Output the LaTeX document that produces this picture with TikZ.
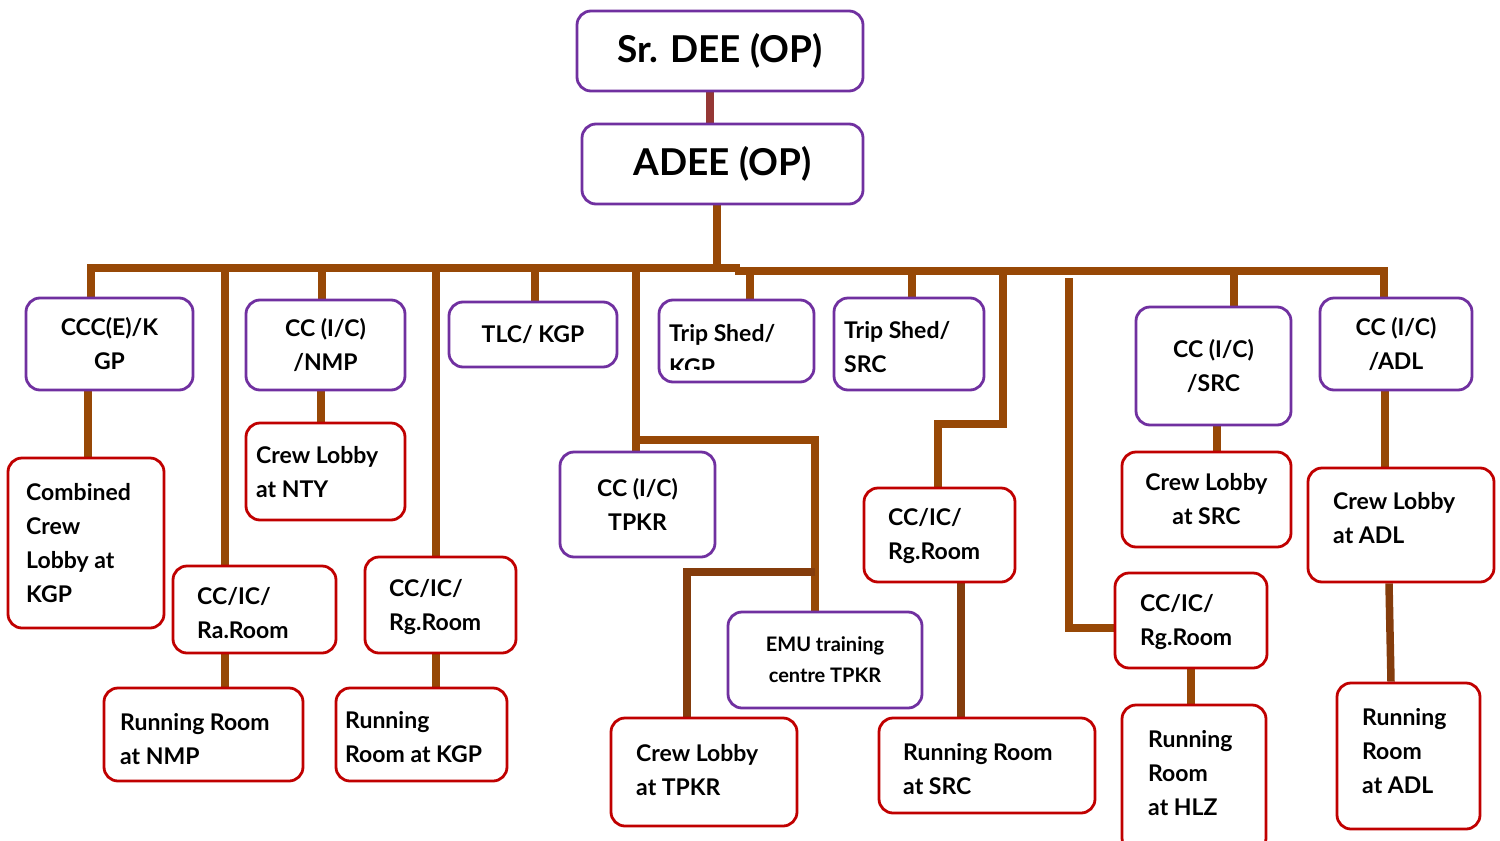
\documentclass[tikz,border=0pt]{standalone}
\usepackage{fontspec}
\setmainfont{Lato}
\usetikzlibrary{backgrounds}
\definecolor{pur}{RGB}{112,48,160}
\definecolor{redb}{RGB}{192,0,0}
\definecolor{brn}{RGB}{151,72,6}
\definecolor{brnd}{RGB}{132,60,12}
\definecolor{tcn}{RGB}{149,55,53}
\newcommand\txtfont{\fontsize{23}{34}\selectfont\bfseries}
\newcommand\bigfont{\fontsize{37}{42}\selectfont\bfseries}
\newcommand\emufont{\fontsize{20}{31}\selectfont\bfseries}
\tikzset{
  pbox/.style={draw=pur, line width=2.8pt, rounded corners=14pt, fill=white,
    align=center, font=\txtfont, inner sep=0pt},
  rbox/.style={pbox, draw=redb},
  txt/.style={anchor=west, align=left, font=\txtfont, inner sep=0pt},
  conn/.style={draw=brn, line width=7.5pt},
  connd/.style={draw=brnd, line width=7.5pt},
  topconn/.style={draw=tcn, line width=7.5pt}
}
% name, x1, y1, x2, y2, style, text
\newcommand\bx[7]{\node[#6, minimum width={(#4)-(#2)}, minimum height={(#5)-(#3)}] (#1) at ({((#2)+(#4))/2},{((#3)+(#5))/2}) {#7};}
\newcommand\tx[4]{\node[txt] (#1) at (#2,#3) {#4};}
\begin{document}
\begin{tikzpicture}[x=1pt,y=-1pt]
\useasboundingbox (0,0) rectangle (1500,841);
% top
\bx{sr}{577}{11}{863}{91}{pbox, font=\bigfont}{Sr. DEE (OP)}
\bx{adee}{582}{124}{863}{204}{pbox, font=\bigfont}{ADEE (OP)}
% row 1
\bx{ccc}{26}{298}{193}{390}{pbox}{CCC(E)/K\\GP}
\bx{nmp}{246}{300}{405}{390}{pbox}{CC (I/C)\\/NMP}
\bx{tlc}{449}{302}{617}{367}{pbox}{TLC/ KGP}
\bx{tsk}{659}{300}{814}{382}{pbox}{}
\bx{tss}{834}{298}{984}{390}{pbox}{}
\bx{ccsrc}{1136}{307}{1291}{425}{pbox}{CC (I/C)\\/SRC}
\bx{ccadl}{1320}{298}{1472}{390}{pbox}{CC (I/C)\\/ADL}
\bx{tpkr}{560}{452}{715}{557}{pbox}{CC (I/C)\\TPKR}
\bx{emu}{728}{612}{922}{708}{pbox, font=\emufont}{EMU training\\centre TPKR}
% red boxes
\bx{comb}{8}{458}{164}{628}{rbox}{}
\bx{nty}{246}{423}{405}{520}{rbox}{}
\bx{raroom}{173}{566}{336}{653}{rbox}{}
\bx{rgkgp}{365}{557}{516}{653}{rbox}{}
\bx{rrnmp}{104}{688}{303}{781}{rbox}{}
\bx{rrkgp}{336}{688}{507}{781}{rbox}{}
\bx{cltpkr}{611}{718}{797}{826}{rbox}{}
\bx{rgsrc}{864}{488}{1015}{582}{rbox}{}
\bx{rrsrc}{879}{718}{1095}{813}{rbox}{}
\bx{rghlz}{1115}{573}{1267}{668}{rbox}{}
\bx{rrhlz}{1122}{705}{1266}{852}{rbox}{}
\bx{clsrc}{1122}{452}{1291}{547}{rbox}{Crew Lobby\\at SRC}
\bx{cladl}{1308}{468}{1494}{582}{rbox}{}
\bx{rradl}{1337}{683}{1480}{829}{rbox}{}
% left-aligned texts
\begin{scope}
  \clip (659,300) rectangle (814,369);
  \tx{tskt}{669}{350}{Trip Shed/\\KGP}
\end{scope}
\tx{tsst}{844}{347}{Trip Shed/\\SRC}
\tx{combt}{26}{543}{Combined\\Crew\\Lobby at\\KGP}
\tx{ntyt}{256}{472}{Crew Lobby\\at NTY}
\tx{raroomt}{197}{613}{CC/IC/\\Ra.Room}
\tx{rgkgpt}{389}{607}{CC/IC/\\Rg.Room}
\tx{rrnmpt}{120}{739}{Running Room\\at NMP}
\tx{rrkgpt}{345}{737}{Running\\Room at KGP}
\tx{cltpkrt}{636}{770}{Crew Lobby\\at TPKR}
\tx{rgsrct}{888}{536}{CC/IC/\\Rg.Room}
\tx{rrsrct}{903}{769}{Running Room\\at SRC}
\tx{rghlzt}{1140}{622}{CC/IC/\\Rg.Room}
\tx{rrhlzt}{1148}{773}{Running\\Room\\at HLZ}
\tx{cladlt}{1333}{518}{Crew Lobby\\at ADL}
\tx{rradlt}{1362}{751}{Running\\Room\\at ADL}
% connectors
\begin{scope}[on background layer]
  \coordinate (k0) at (710,100);
  \draw[topconn] (sr.south -| k0) -- (adee.north -| k0);
  \coordinate (a0) at (717,268);
  \draw[conn] (adee.south -| a0) -- (a0);
  % bus
  \coordinate (bL) at (91,268);
  \coordinate (bM) at (740,268);
  \coordinate (bM2) at (735,271);
  \coordinate (bR) at (1384,271);
  \draw[conn] (bL |- ccc.north) -- (bL) -- (bM);
  \draw[conn] (bM2) -- (bR) -- (bR |- ccadl.north);
  % drops from bus
  \coordinate (d1) at (322,268);
  \draw[conn] (d1) -- (d1 |- nmp.north);
  \coordinate (d2) at (535,268);
  \draw[conn] (d2) -- (d2 |- tlc.north);
  \coordinate (d3) at (750,271);
  \draw[conn] (d3) -- (d3 |- tsk.north);
  \coordinate (d4) at (912,271);
  \draw[conn] (d4) -- (d4 |- tss.north);
  \coordinate (d5) at (1234,271);
  \draw[conn] (d5) -- (d5 |- ccsrc.north);
  \coordinate (d6) at (225,268);
  \draw[conn] (d6) -- (d6 |- raroom.north);
  \coordinate (d7) at (436,268);
  \draw[conn] (d7) -- (d7 |- rgkgp.north);
  % TPKR branch
  \coordinate (t0) at (636,268);
  \coordinate (t1) at (636,440);
  \coordinate (t2) at (815,440);
  \coordinate (t3) at (815,572);
  \coordinate (t4) at (687,572);
  \draw[conn] (t0) -- (t0 |- tpkr.north);
  \draw[conn] (t1) -- (t2) -- (t2 |- emu.north);
  \draw[connd] (t3) -- (t4) -- (t4 |- cltpkr.north);
  % SRC Rg branch
  \coordinate (s0) at (1003,271);
  \coordinate (s1) at (1003,424);
  \coordinate (s2) at (938,424);
  \draw[conn] (s0) -- (s1) -- (s2) -- (s2 |- rgsrc.north);
  % HLZ branch
  \coordinate (h0) at (1069,278);
  \coordinate (h1) at (1069,628);
  \draw[conn] (h0) -- (h1) -- (h1 -| rghlz.west);
  % second level
  \coordinate (e1) at (88,400);
  \draw[conn] (ccc.south -| e1) -- (comb.north -| e1);
  \coordinate (e2) at (321,400);
  \draw[conn] (nmp.south -| e2) -- (nty.north -| e2);
  \draw[conn] (raroom.south -| d6) -- (rrnmp.north -| d6);
  \draw[conn] (rgkgp.south -| d7) -- (rrkgp.north -| d7);
  \coordinate (e3) at (961,600);
  \draw[connd] (rgsrc.south -| e3) -- (rrsrc.north -| e3);
  \coordinate (e4) at (1191,680);
  \draw[conn] (rghlz.south -| e4) -- (rrhlz.north -| e4);
  \coordinate (e5) at (1217,440);
  \draw[conn] (ccsrc.south -| e5) -- (clsrc.north -| e5);
  \coordinate (e6) at (1385,420);
  \draw[conn] (ccadl.south -| e6) -- (cladl.north -| e6);
  \coordinate (e7) at (1389,600);
  \coordinate (e8) at (1391,660);
  \draw[connd] (cladl.south -| e7) -- (rradl.north -| e8);
\end{scope}
\end{tikzpicture}
\end{document}
